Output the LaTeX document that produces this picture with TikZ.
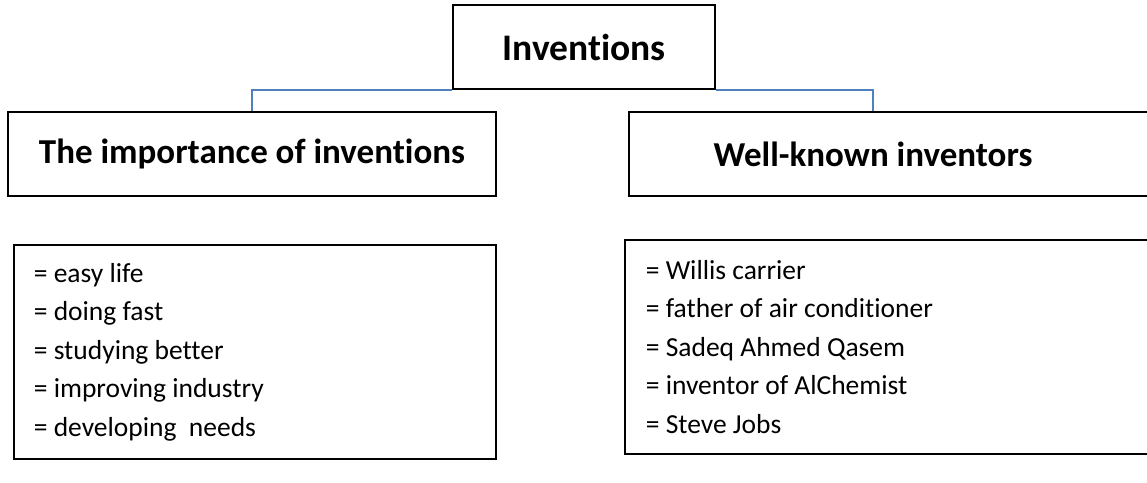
\documentclass[tikz,border=0pt]{standalone}
\usepackage{fontspec}
\setmainfont{Carlito}[Ligatures=NoCommon]
\usepackage{tikz}
\usetikzlibrary{shapes,positioning,calc}
\definecolor{linkblue}{RGB}{79,129,189}
\tikzstyle{block} = [rectangle, draw, line width=1.7pt, inner sep=0pt]
\tikzstyle{head} = [font=\fontsize{35}{42}\selectfont\bfseries]
\tikzstyle{items} = [font=\fontsize{27.5}{38.5}\selectfont, align=left,
    execute at begin node={\spaceskip=0pt\xspaceskip=0pt}]
\tikzstyle{link} = [draw, linkblue, line width=1.4pt]

\begin{document}
\begin{tikzpicture}[x=1pt, y=-1pt]
        \useasboundingbox (0,0) rectangle (1147,482);
        % Components
        \node [block, head, font=\fontsize{37.5}{44}\selectfont\bfseries, minimum width=262, minimum height=84] (inventions) at (584,47) {Inventions};
        \node [block, head, minimum width=488, minimum height=84] (importance) at (252,154) {The importance of inventions};
        \node [block, anchor=west, minimum width=540, minimum height=84] (known) at (628,154) {};
        \node [head] (knowntext) at (873,154) {Well-known inventors};
        \node [block, items, anchor=north west, text width=442, inner xsep=20, minimum height=214] (uses) at (13,244)
            {= easy life\\= doing fast\\= studying better\\= improving industry\\= developing~ needs};
        \node [block, items, anchor=north west, text width=494, inner xsep=21, minimum height=214] (names) at (624,239)
            {= Willis carrier\\= father of air conditioner\\= Sadeq Ahmed Qasem\\= inventor of AlChemist\\= Steve Jobs};

        % Connections
        \path [link] (importance.north) |- (inventions.south west);
        \path [link] (inventions.south east) -| (knowntext |- known.north);
\end{tikzpicture}
\end{document}
